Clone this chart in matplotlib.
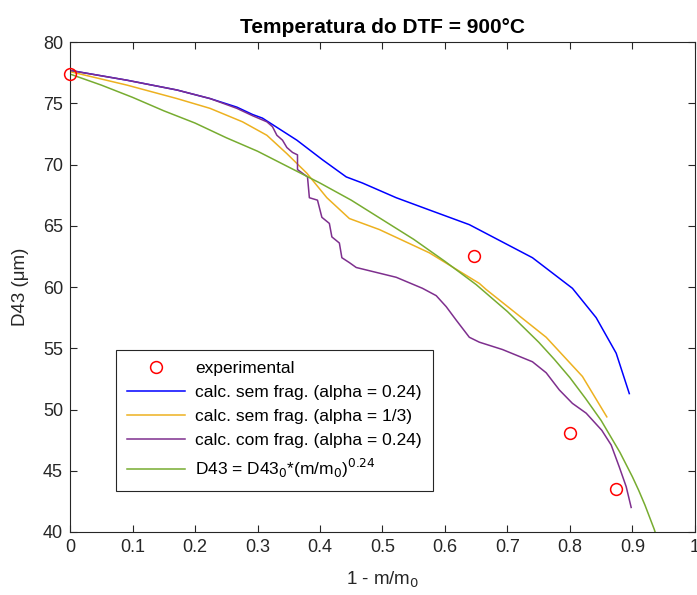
import matplotlib
matplotlib.use("Agg")
import matplotlib.pyplot as plt

plt.rcParams['font.family'] = ['Liberation Sans', 'DejaVu Sans']

title = "Temperatura do DTF = 900°C"
xlabel = "1 - m/m$_0$"
ylabel = "D43 (μm)"

exp_x = [0.0, 0.647, 0.800, 0.874]
exp_y = [77.4, 62.5, 48.1, 43.5]

blue_x = [0.0, 0.091, 0.171, 0.224, 0.267, 0.292, 0.308, 0.363, 0.404, 0.442, 0.468,
          0.522, 0.575, 0.639, 0.740, 0.804, 0.842, 0.874, 0.895]
blue_y = [77.7, 76.9, 76.1, 75.4, 74.7, 74.1, 73.8, 72.0, 70.4, 69.0, 68.5,
          67.3, 66.3, 65.1, 62.4, 59.9, 57.5, 54.6, 51.3]

orange_x = [0.0, 0.091, 0.171, 0.224, 0.276, 0.315, 0.347, 0.379, 0.411, 0.447, 0.495,
            0.575, 0.655, 0.666, 0.762, 0.820, 0.859]
orange_y = [77.6, 76.5, 75.4, 74.6, 73.5, 72.4, 70.9, 69.3, 67.3, 65.6, 64.7,
            62.8, 60.3, 59.8, 55.9, 52.7, 49.4]

purple_x = [0.0, 0.091, 0.171, 0.224, 0.267, 0.292, 0.315, 0.324, 0.331, 0.340, 0.347,
            0.356, 0.364, 0.364, 0.380, 0.383, 0.396, 0.403, 0.415, 0.419, 0.431,
            0.435, 0.447, 0.458, 0.522, 0.564, 0.586, 0.602, 0.618, 0.639, 0.655,
            0.692, 0.740, 0.762, 0.783, 0.804, 0.826, 0.851, 0.866, 0.879, 0.890, 0.898]
purple_y = [77.7, 76.9, 76.1, 75.4, 74.6, 74.0, 73.5, 73.1, 72.4, 72.0, 71.4,
            71.0, 70.8, 69.6, 69.0, 67.3, 67.1, 65.7, 65.2, 64.1, 63.6,
            62.4, 62.0, 61.6, 60.8, 59.9, 59.3, 58.4, 57.3, 55.9, 55.5,
            54.9, 53.9, 53.0, 51.6, 50.5, 49.7, 48.3, 47.1, 45.3, 43.7, 42.0]

green_x = [0.0, 0.05, 0.1, 0.15, 0.2, 0.25, 0.3, 0.35, 0.4, 0.45, 0.5, 0.55, 0.6, 0.65,
           0.7, 0.75, 0.775, 0.8, 0.825, 0.85, 0.88, 0.9, 0.91, 0.92, 0.935, 0.94]
green_y = [77.4, 76.5, 75.5, 74.4, 73.4, 72.2, 71.1, 69.8, 68.5, 67.1, 65.5, 63.9, 62.1, 60.2,
           58.0, 55.5, 54.1, 52.6, 50.9, 49.1, 46.5, 44.5, 43.4, 42.2, 40.2, 39.4]

labels = ["experimental",
          "calc. sem frag. (alpha = 0.24)",
          "calc. sem frag. (alpha = 1/3)",
          "calc. com frag. (alpha = 0.24)",
          "D43 = D43$_0$*(m/m$_0$)$^{0.24}$"]

xticks = [0, 0.1, 0.2, 0.3, 0.4, 0.5, 0.6, 0.7, 0.8, 0.9, 1]
xticklabels = ["0", "0.1", "0.2", "0.3", "0.4", "0.5", "0.6", "0.7", "0.8", "0.9", "1"]
yticks = [40, 45, 50, 55, 60, 65, 70, 75, 80]

fig = plt.figure(figsize=(6.97, 5.95), dpi=100)
ax = fig.add_axes([0.1005, 0.106, 0.8965, 0.823])

gray = (0.15, 0.15, 0.15)
ax.plot(exp_x, exp_y, 'o', mfc='none', mec='red', ms=8.5, mew=1.1, label=labels[0], clip_on=False, zorder=5)
ax.plot(blue_x, blue_y, color=(0, 0, 1), lw=1.1, label=labels[1])
ax.plot(orange_x, orange_y, color=(0.929, 0.694, 0.125), lw=1.1, label=labels[2])
ax.plot(purple_x, purple_y, color=(0.494, 0.184, 0.556), lw=1.1, label=labels[3])
ax.plot(green_x, green_y, color=(0.466, 0.674, 0.188), lw=1.1, label=labels[4])

ax.set_xlim(0, 1)
ax.set_ylim(40, 80)
ax.set_xticks(xticks)
ax.set_xticklabels(xticklabels)
ax.set_yticks(yticks)
ax.tick_params(direction='in', top=True, right=True, length=5, width=0.8,
               labelsize=13, colors=gray, pad=5)
for s in ax.spines.values():
    s.set_color(gray)
    s.set_linewidth(0.8)

ax.set_title(title, fontsize=15, fontweight='bold', pad=7)
ax.set_xlabel(xlabel, fontsize=13.5, color=gray, labelpad=10)
ax.set_ylabel(ylabel, fontsize=13.5, color=gray, labelpad=10)

leg = ax.legend(loc='lower left', bbox_to_anchor=(0.0735, 0.0837), borderaxespad=0,
                fontsize=12.5, frameon=True, fancybox=False, edgecolor=gray, framealpha=1,
                handlelength=3.3, borderpad=0.65, labelspacing=0.5, handletextpad=0.6)
leg.get_frame().set_linewidth(0.8)

fig.savefig("out.png", dpi=100)
